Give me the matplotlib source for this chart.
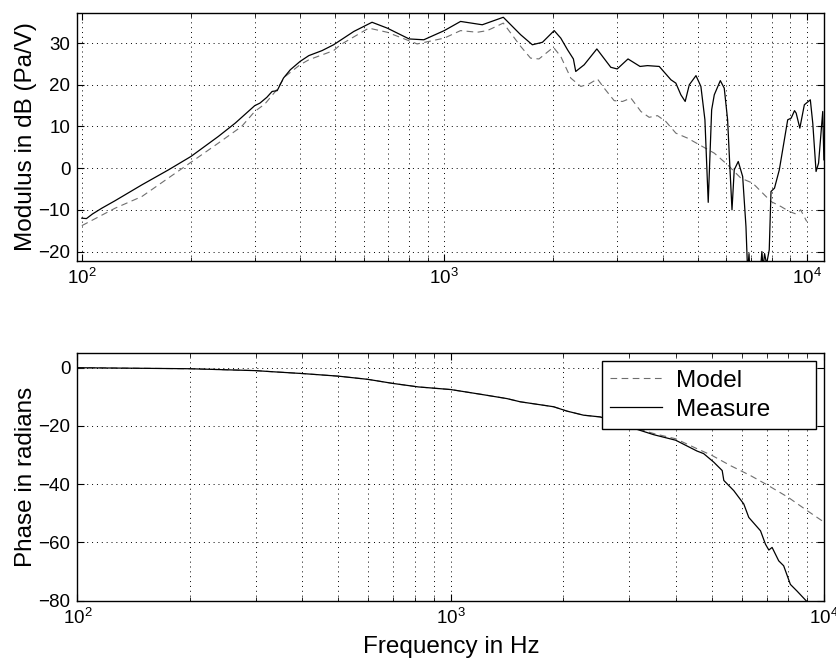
import matplotlib
matplotlib.use("Agg")
import matplotlib.pyplot as plt
from matplotlib.ticker import LogLocator, NullFormatter

plt.rcParams['font.family'] = ['Liberation Sans', 'DejaVu Sans']
plt.rcParams['mathtext.fontset'] = 'custom'
plt.rcParams['mathtext.rm'] = 'Liberation Sans'
plt.rcParams['mathtext.it'] = 'Liberation Sans'

# ---- Top panel: modulus (dB) ----
f_meas_mod = [100, 103, 107, 113.6, 123.6, 146.5, 173.5, 200, 238, 265, 300, 310, 324, 335, 346,
              360, 376, 400, 423, 460, 495, 563, 632, 696, 800, 878, 1000, 1109, 1273, 1455,
              1625, 1750, 1866, 2010, 2096, 2188, 2271, 2305, 2432, 2636, 2880, 3000, 3213,
              3468, 3636, 3918, 4220, 4354, 4495, 4620, 4742, 4948, 5105, 5237, 5348, 5466,
              5558, 5775, 5921, 6049, 6123, 6220, 6309, 6472, 6656, 6797, 6870, 6930, 6990,
              7400, 7520, 7580, 7650, 7750, 7880, 7969, 8147, 8401, 8861, 9057, 9253, 9350,
              9570, 9849, 10230, 10390, 10610, 10780, 11070, 11150]
meas_mod = [-12.0, -12.1, -11.0, -9.6, -7.8, -4.0, -0.4, 2.8, 7.6, 10.8, 15.0, 15.6, 17.0, 18.4, 18.6,
            21.6, 23.6, 25.6, 27.0, 28.2, 29.6, 32.8, 35.0, 33.6, 31.0, 30.8, 33.0, 35.2, 34.4, 36.2,
            32.0, 29.6, 30.2, 33.0, 31.2, 28.4, 26.2, 23.2, 24.8, 28.6, 24.2, 23.8, 26.2,
            24.4, 24.6, 24.4, 21.2, 20.4, 17.6, 16.0, 20.0, 22.2, 19.6, 11.6, -8.2, 14.0,
            17.6, 21.0, 19.2, 11.6, 2.0, -10.0, -0.4, 1.6, -2.0, -14.0, -25.0, -20.5, -27.0,
            -28.0, -20.0, -24.0, -20.5, -23.0, -19.6, -5.6, -4.8, -0.4, 11.6, 12.0, 13.8, 13.2,
            9.6, 15.2, 16.4, 10.8, -0.8, 1.2, 13.6, 2.0]

f_model_mod = [100, 123.6, 146.5, 200, 238, 276, 300, 320, 342, 364, 400, 423, 495, 517, 619, 696,
               842, 1000, 1109, 1233, 1314, 1455, 1625, 1730, 1825, 2000, 2096, 2234, 2381, 2507,
               2646, 2761, 2942, 3103, 3273, 3487, 3675, 3874, 4085, 4354, 4690, 5105, 5558,
               6049, 6581, 7096, 7480, 7969, 8486, 8954, 9341, 9620, 10000]
model_mod = [-13.8, -9.6, -6.8, 1.4, 6.0, 10.0, 13.6, 15.4, 18.4, 22.0, 24.8, 26.0, 28.2, 29.6, 33.6, 32.6,
             29.8, 31.2, 33.0, 32.6, 33.0, 34.8, 29.2, 26.4, 26.2, 29.0, 26.8, 21.6, 19.6, 20.2,
             21.4, 19.2, 16.2, 16.0, 16.8, 13.6, 12.2, 12.6, 11.2, 8.4, 7.2, 5.4, 3.6,
             0.8, -2.4, -3.6, -5.6, -8.0, -9.2, -10.4, -11.0, -10.0, -12.8]

# ---- Bottom panel: phase (radians) ----
f_meas_ph = [100, 200, 300, 335, 400, 500, 600, 700, 819, 1000, 1199, 1413, 1534, 1884, 2046, 2266,
             2512, 3000, 3493, 4000, 4559, 4752, 5054, 5326, 5380, 5720, 6085, 6275, 6746, 6955,
             7100, 7245, 7546, 7780, 8110, 8450, 8950]
meas_ph = [0.0, -0.35, -1.0, -1.4, -2.0, -2.9, -4.0, -5.4, -6.6, -7.5, -9.1, -10.6, -11.7, -13.4, -14.9, -16.3,
           -16.9, -20.3, -23.0, -24.9, -28.6, -29.5, -32.4, -35.3, -38.7, -42.2, -46.8, -51.4, -56.0, -60.6,
           -62.6, -61.7, -66.3, -68.0, -74.4, -76.7, -80.1]

f_model_ph = [100, 200, 300, 335, 400, 500, 600, 700, 819, 1000, 1199, 1413, 1534, 1884, 2046, 2266,
              2512, 3000, 3493, 4000, 4559, 5000, 5602, 6335, 7000, 8000, 9000, 10000]
model_ph = [0.0, -0.35, -1.0, -1.4, -2.0, -2.9, -4.0, -5.4, -6.6, -7.5, -9.1, -10.6, -11.7, -13.4, -14.9, -16.3,
            -16.9, -20.1, -22.6, -24.4, -27.8, -30.1, -33.6, -37.0, -40.1, -44.5, -49.1, -53.1]

mod_yticks = [-20, -10, 0, 10, 20, 30]
ph_yticks = [-80, -60, -40, -20, 0]
legend_labels = ['Model', 'Measure']

model_color = '#6e6e6e'
dash = (0, (6, 4))

fig = plt.figure(figsize=(8.36, 6.64), dpi=100)
ax1 = fig.add_axes([0.0925, 0.6074, 0.8930, 0.3735])
ax2 = fig.add_axes([0.0925, 0.0953, 0.8936, 0.3735])

ax1.plot(f_model_mod, model_mod, color=model_color, lw=0.8, linestyle=dash)
ax1.plot(f_meas_mod, meas_mod, color='k', lw=0.9)
ax1.set_xscale('log')
ax1.set_xlim(97.2, 11150)
ax1.set_ylim(-22.2, 37.3)
ax1.set_yticks(mod_yticks)
ax1.set_ylabel('Modulus in dB (Pa/V)', fontsize=17.5, labelpad=1)

lm, = ax2.plot(f_model_ph, model_ph, color=model_color, lw=0.8, linestyle=dash)
ls, = ax2.plot(f_meas_ph, meas_ph, color='k', lw=0.9)
ax2.set_xscale('log')
ax2.set_xlim(100, 10000)
ax2.set_ylim(-80, 5.15)
ax2.set_yticks(ph_yticks)
ax2.set_ylabel('Phase in radians', fontsize=17.5, labelpad=1)
ax2.set_xlabel('Frequency in Hz', fontsize=17.5, labelpad=6)

for ax in (ax1, ax2):
    ax.xaxis.set_major_locator(LogLocator(base=10, numticks=10))
    ax.xaxis.set_minor_locator(LogLocator(base=10, subs=range(2, 10), numticks=20))
    ax.xaxis.set_minor_formatter(NullFormatter())
    ax.grid(True, which='both', axis='x', linestyle=(0, (1, 4)), color='k', lw=0.7)
    ax.grid(True, which='major', axis='y', linestyle=(0, (1, 4)), color='k', lw=0.7)
    ax.tick_params(which='both', direction='in', top=True, right=True, labelsize=13.5, pad=5)
    ax.tick_params(which='major', length=5, width=0.8)
    ax.tick_params(which='minor', length=3, width=0.6)
    for s in ax.spines.values():
        s.set_linewidth(1.0)

leg = ax2.legend([lm, ls], legend_labels, loc='upper left',
                 bbox_to_anchor=(0.7023, 0.0, 0.2866, 0.9665), mode='expand',
                 borderaxespad=0, fontsize=17.5, frameon=True, fancybox=False,
                 edgecolor='k', framealpha=1, handlelength=2.1, handletextpad=0.6,
                 labelspacing=0.3, borderpad=0.35)
leg.get_frame().set_linewidth(1.0)

fig.savefig('out.png', dpi=100)
